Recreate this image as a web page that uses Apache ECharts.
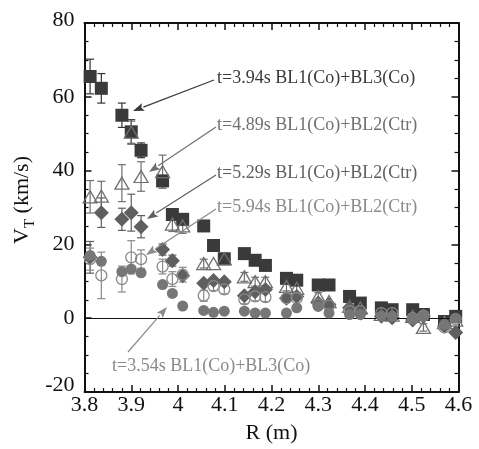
<!DOCTYPE html>
<html><head><meta charset="utf-8">
<script src="https://cdn.jsdelivr.net/npm/echarts@6/dist/echarts.min.js"></script>
<style>html,body{margin:0;padding:0;background:#fff}#c{width:479px;height:449px}</style>
</head><body><div id="c"></div>
<script>
// ---- data ----
const R = [3.812,3.836,3.880,3.900,3.921,3.967,3.988,4.010,4.055,4.076,4.099,4.142,4.165,4.187,4.232,4.254,4.300,4.323,4.367,4.390,4.435,4.458,4.502,4.525,4.570,4.594];
// t=3.94s BL1(Co)+BL3(Co) – filled squares
const sqV = [65.5,62.3,55.0,50.5,45.5,37.2,28.1,26.8,25.0,19.7,16.1,17.5,15.7,14.3,10.8,10.3,9.0,9.0,5.9,4.1,2.8,2.3,2.3,1.0,-0.9,0.5];
const sqE = [4.7,4.0,3.3,3.3,2.0,1.5,1.2,1.5,1.2,0,0,0,0,0,0,0,0,0,0,0,0,0,0,0,0,0];
// t=4.89s BL1(Co)+BL2(Ctr) – open triangles
const triV = [32.9,33.1,36.6,50.4,38.4,39.7,25.5,25.0,14.8,14.8,16.1,11.2,9.9,9.9,8.6,8.1,5.9,4.5,3.2,2.8,1.0,0.8,0.5,-2.5,-1.2,-0.5];
const triE = [4.4,4.0,5.0,3.0,4.0,4.5,2.0,2.0,1.2,0,1.5,1.2,1.2,1.2,1.2,1.2,1.0,0,1.0,0,0,0,0,1.0,0,0];
// t=5.29s BL1(Co)+BL2(Ctr) – filled diamonds
const diaV = [16.5,28.6,26.8,28.6,24.8,18.6,15.6,11.5,9.5,10.2,9.9,6.1,7.2,7.8,5.4,5.9,4.1,3.7,2.8,1.4,0.5,0.1,-0.5,0.5,-2.1,-3.9];
const diaE = [4.3,4.0,3.0,5.0,3.0,1.5,1.5,0,0,0,0,0,0,0,0,0,0,0,0,0,0,0,0,0,0,0];
// t=5.94s BL1(Co)+BL2(Ctr) – open circles
const ocV = [16.0,11.6,10.6,16.5,16.0,14.0,10.6,11.8,6.1,8.7,7.8,5.1,5.9,5.7,5.4,5.4,3.7,3.4,1.9,1.9,1.4,1.4,0.0,0.7,-2.5,-0.3];
const ocE = [3.0,6.3,3.5,4.5,2.5,2.0,2.0,2.0,1.5,1.2,1.2,1.2,1.2,1.2,0,0,0,0,0,0,0,0,0,0,0,0];
// t=3.54s BL1(Co)+BL3(Co) – filled circles
const fcV = [17.0,15.4,12.6,13.3,12.3,9.1,6.7,3.3,2.1,1.6,1.9,1.9,1.4,1.4,1.4,2.8,3.2,1.4,1.0,1.0,0.6,0.5,-0.3,0.6,-1.7,0.0];
const fcE = [0,0,0,0,0,0,0,0,0,0,0,0,0,0,0,0,0,0,0,0,0,0,0,0,0,0];
const xTicks = ['3.8','3.9','4','4.1','4.2','4.3','4.4','4.5','4.6'];
const yTicks = ['-20','0','20','40','60','80'];
const labels = ['t=3.94s BL1(Co)+BL3(Co)','t=4.89s BL1(Co)+BL2(Ctr)','t=5.29s BL1(Co)+BL2(Ctr)','t=5.94s BL1(Co)+BL2(Ctr)','t=3.54s BL1(Co)+BL3(Co)'];

const FONT = '"Liberation Serif", "DejaVu Serif", serif';
const chart = echarts.init(document.getElementById('c'), null, {renderer:'canvas'});

function pts(vals){ return R.map((r,i)=>[r, vals[i]]); }
function errData(vals, errs){ return R.map((r,i)=>[r, vals[i], errs[i]]).filter(d=>d[2]>0); }
function errSeries(vals, errs, color){
  return {
    type:'custom', z:1, silent:true,
    data: errData(vals, errs),
    renderItem: function(params, api){
      const x = api.value(0), y = api.value(1), e = api.value(2);
      const top = api.coord([x, y+e]), bot = api.coord([x, y-e]);
      const w = 4;
      const st = {stroke: color, lineWidth: 1.2, fill: null};
      return {type:'group', children:[
        {type:'line', shape:{x1:top[0],y1:top[1],x2:bot[0],y2:bot[1]}, style:st},
        {type:'line', shape:{x1:top[0]-w,y1:top[1],x2:top[0]+w,y2:top[1]}, style:st},
        {type:'line', shape:{x1:bot[0]-w,y1:bot[1],x2:bot[0]+w,y2:bot[1]}, style:st}
      ]};
    }
  };
}

const axisCommon = {
  axisLine:{show:true, onZero:false, lineStyle:{color:'#111', width:2}},
  axisTick:{show:true, inside:true, length:7, lineStyle:{color:'#111', width:1.5}},
  splitLine:{show:false}, minorSplitLine:{show:false}
};
const xMinor = {minorTick:{show:true, splitNumber:5, length:4, lineStyle:{color:'#111', width:1.2}}};
const yMinor = {minorTick:{show:true, splitNumber:4, length:4, lineStyle:{color:'#111', width:1.2}}};

function arrow(x1,y1,x2,y2,color){
  const ang = Math.atan2(y2-y1, x2-x1);
  const L = 11, W = 4;
  const bx = x2 - L*Math.cos(ang), by = y2 - L*Math.sin(ang);
  const px = -Math.sin(ang)*W, py = Math.cos(ang)*W;
  return [
    {type:'line', silent:true, z:100, shape:{x1:x1,y1:y1,x2:bx,y2:by}, style:{stroke:color, lineWidth:1.2}},
    {type:'polygon', silent:true, z:100, shape:{points:[[x2,y2],[bx+px,by+py],[bx+2*Math.cos(ang),by+2*Math.sin(ang)],[bx-px,by-py]]}, style:{fill:color}}
  ];
}
function label(txt, x, y, color){
  return {type:'text', silent:true, z:100, x:x, y:y, style:{text:txt, fill:color, font:'18px '+FONT, textVerticalAlign:'middle'}};
}

const graphics = [].concat(
  [label(labels[0], 217, 78, '#3a3a3a')], arrow(214, 80, 133, 111, '#3a3a3a'),
  [label(labels[1], 217, 125, '#707070')], arrow(216, 127, 149, 172, '#707070'),
  [label(labels[2], 217, 173, '#5f5f5f')], arrow(216, 175, 147, 219, '#5f5f5f'),
  [label(labels[3], 217, 207, '#8a8a8a')], arrow(216, 209, 146, 255, '#8a8a8a'),
  [label(labels[4], 112, 366, '#8a8a8a')], arrow(128, 352, 167, 307, '#8a8a8a'),
  [{type:'text', silent:true, x:22, y:200, rotation:Math.PI/2,
    style:{text:'{v|V}{s|T}{n| (km/s)}', align:'center', verticalAlign:'middle',
      rich:{v:{font:'22px '+FONT, fill:'#111'}, s:{font:'15px '+FONT, fill:'#111', padding:[16,0,0,0]}, n:{font:'22px '+FONT, fill:'#111'}}}}]
);

const option = {
  animation:false,
  backgroundColor:'#fff',
  grid:{left:84.5, right:20.5, top:23, bottom:52, containLabel:false},
  xAxis:[
    Object.assign({type:'value', min:3.8, max:4.6, interval:0.1, position:'bottom',
      name:'R (m)', nameLocation:'middle', nameGap:30,
      nameTextStyle:{fontFamily:FONT, fontSize:22, color:'#111'},
      axisLabel:{fontFamily:FONT, fontSize:22, color:'#111', margin:2,
        formatter:v=>xTicks[Math.round((v-3.8)/0.1)]}}, axisCommon, xMinor),
    Object.assign({type:'value', min:3.8, max:4.6, interval:0.1, position:'top',
      axisLabel:{show:false}}, axisCommon, xMinor)
  ],
  yAxis:[
    Object.assign({type:'value', min:-20, max:80, interval:20, position:'left',
      axisLabel:{fontFamily:FONT, fontSize:22, color:'#111', margin:10,
        formatter:v=>{const s=yTicks[Math.round((v+20)/20)]; return s==='-20' ? '{m|'+s+'}' : (s==='80' ? '{t|'+s+'}' : s);},
        rich:{m:{fontFamily:FONT, fontSize:22, color:'#111', padding:[0,0,14,0]},
              t:{fontFamily:FONT, fontSize:22, color:'#111', padding:[0,0,6,0]}}}}, axisCommon, yMinor),
    Object.assign({type:'value', min:-20, max:80, interval:20, position:'right',
      axisLabel:{show:false}}, axisCommon, yMinor)
  ],
  series:[
    errSeries(sqV, sqE, '#333'),
    errSeries(triV, triE, '#707070'),
    errSeries(diaV, diaE, '#5f5f5f'),
    errSeries(ocV, ocE, '#8a8a8a'),
    {type:'scatter', z:2, data:pts(sqV), symbol:'rect', symbolSize:13,
      itemStyle:{color:'#3a3a3a', opacity:1},
      markLine:{silent:true, symbol:'none', label:{show:false}, lineStyle:{color:'#111', width:1.2, type:'solid'}, data:[{yAxis:0}]}},
    {type:'scatter', z:3, data:pts(triV), symbol:'triangle', symbolSize:[14,12],
      itemStyle:{color:'rgba(255,255,255,0)', borderColor:'#707070', borderWidth:1.3, opacity:1}},
    {type:'scatter', z:4, data:pts(diaV), symbol:'diamond', symbolSize:[15,15],
      itemStyle:{color:'#5f5f5f', opacity:1}},
    {type:'scatter', z:5, data:pts(ocV), symbol:'circle', symbolSize:11,
      itemStyle:{color:'rgba(255,255,255,0)', borderColor:'#8a8a8a', borderWidth:1.3, opacity:1}},
    {type:'scatter', z:6, data:pts(fcV), symbol:'circle', symbolSize:11,
      itemStyle:{color:'#767676', opacity:1}}
  ],
  graphic: graphics
};
chart.setOption(option);
</script></body></html>
